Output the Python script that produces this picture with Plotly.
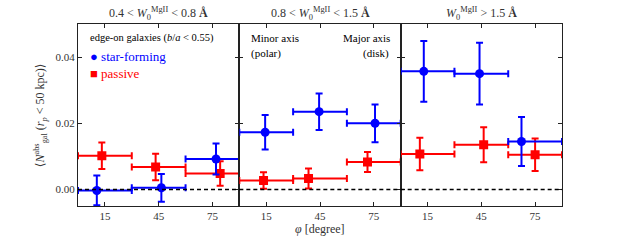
import plotly.graph_objects as go
from plotly.subplots import make_subplots

# ---- data ----
bin_lo = [0, 30, 60]
bin_hi = [30, 60, 90]

panel_titles = ["0.4 &lt; <i>W</i><sub>0</sub><sup>MgII</sup> &lt; 0.8 <b>Å</b>",
                "0.8 &lt; <i>W</i><sub>0</sub><sup>MgII</sup> &lt; 1.5 <b>Å</b>",
                "<i>W</i><sub>0</sub><sup>MgII</sup> &gt; 1.5 <b>Å</b>"]

sf_phi = [[10.5, 46.5, 77.0], [14.4, 44.5, 75.7], [12.9, 44.0, 67.4]]
sf_val = [[-0.0003, 0.0005, 0.0092], [0.0173, 0.0235, 0.0200], [0.0357, 0.0350, 0.0145]]
sf_err = [[0.0045, 0.0042, 0.0047], [0.0052, 0.0055, 0.0057], [0.0092, 0.0093, 0.0074]]

pa_phi = [[13.3, 43.3, 79.3], [13.5, 38.6, 71.5], [10.7, 46.3, 75.0]]
pa_val = [[0.0102, 0.0068, 0.0048], [0.0027, 0.0033, 0.0083], [0.0107, 0.0135, 0.0105]]
pa_err = [[0.0040, 0.0040, 0.0037], [0.0025, 0.0030, 0.0030], [0.0049, 0.0053, 0.0049]]

x_ticks = [15, 45, 75]
y_ticks = [0.00, 0.02, 0.04]
y_ticklabels = ["0.00", "0.02", "0.04"]

BLUE = "#0000ff"
RED = "#ff0000"
FONT = "Liberation Serif, DejaVu Serif, serif"

fig = make_subplots(rows=1, cols=3, shared_yaxes=True, horizontal_spacing=0.0)


def add_series(col, phi, val, err, color, symbol):
    fig.add_trace(go.Scatter(
        x=phi, y=val, mode="markers",
        marker=dict(color=color, size=9, symbol=symbol),
        error_y=dict(type="data", array=err, color=color, thickness=2, width=3.5),
        error_x=dict(type="data",
                     array=[h - p for h, p in zip(bin_hi, phi)],
                     arrayminus=[p - l for l, p in zip(bin_lo, phi)],
                     color=color, thickness=2, width=3.5),
        showlegend=False, cliponaxis=True, hoverinfo="skip"), row=1, col=col)


for i in range(3):
    add_series(i + 1, pa_phi[i], pa_val[i], pa_err[i], RED, "square")
    add_series(i + 1, sf_phi[i], sf_val[i], sf_err[i], BLUE, "circle")
    fig.add_hline(y=0, line=dict(color="black", width=1.5, dash="4px,3px"), row=1, col=i + 1)

axis_common = dict(showline=True, linecolor="#222", linewidth=1, mirror="ticks",
                   ticks="inside", ticklen=4, tickwidth=1, tickcolor="#222",
                   showgrid=False, zeroline=False,
                   tickfont=dict(family=FONT, size=11, color="#333"))
for i in range(3):
    fig.update_xaxes(range=[0, 90], tickvals=x_ticks, row=1, col=i + 1, **axis_common)
    fig.update_yaxes(range=[-0.005, 0.05], tickvals=y_ticks, ticktext=y_ticklabels,
                     showticklabels=(i == 0), row=1, col=i + 1, **axis_common)

ann = []
for i, t in enumerate(panel_titles):
    ann.append(dict(text=t, x=(i + 0.5) / 3, y=1.06, xref="paper", yref="paper",
                    xanchor="center", yanchor="middle", showarrow=False,
                    font=dict(family=FONT, size=12, color="#333")))
ann.append(dict(text="<i>φ</i> [degree]", x=0.5, y=-0.128, xref="paper", yref="paper",
                xanchor="center", yanchor="middle", showarrow=False,
                font=dict(family=FONT, size=12, color="#333")))
ann.append(dict(text="⟨<i>N</i><sup>abs</sup><sub>gal</sub> (<i>r<sub>p</sub></i> &lt; 50 kpc)⟩",
                x=-0.078, y=0.5, xref="paper", yref="paper", textangle=-90,
                xanchor="center", yanchor="middle", showarrow=False,
                font=dict(family=FONT, size=12, color="#333")))
# panel 1 labels
ann.append(dict(text="edge-on galaxies (<i>b</i>/<i>a</i> &lt; 0.55)", x=5.4, y=0.0459,
                xref="x", yref="y", xanchor="left", yanchor="middle", showarrow=False,
                font=dict(family=FONT, size=10.5, color="black")))
ann.append(dict(text="● star-forming", x=5.4, y=0.0402, xref="x", yref="y",
                xanchor="left", yanchor="middle", showarrow=False,
                font=dict(family=FONT, size=13, color=BLUE)))
ann.append(dict(text="■ passive", x=5.4, y=0.0351, xref="x", yref="y",
                xanchor="left", yanchor="middle", showarrow=False,
                font=dict(family=FONT, size=13, color=RED)))
# panel 2 labels
for txt, xx, yy, anc in [("Minor axis", 5.6, 0.0459, "left"), ("(polar)", 5.6, 0.0411, "left"),
                         ("Major axis", 85.2, 0.0459, "right"), ("(disk)", 84.5, 0.0411, "right")]:
    ann.append(dict(text=txt, x=xx, y=yy, xref="x2", yref="y2", xanchor=anc,
                    yanchor="middle", showarrow=False,
                    font=dict(family=FONT, size=11, color="black")))

fig.update_layout(width=625, height=240, margin=dict(l=78, r=63, t=24, b=34),
                  plot_bgcolor="white", paper_bgcolor="white", annotations=ann,
                  font=dict(family=FONT), hovermode=False)

fig.write_html("out.html", config={"displayModeBar": False, "staticPlot": True},
               post_script="document.body.style.margin='0';document.body.style.padding='0';")
